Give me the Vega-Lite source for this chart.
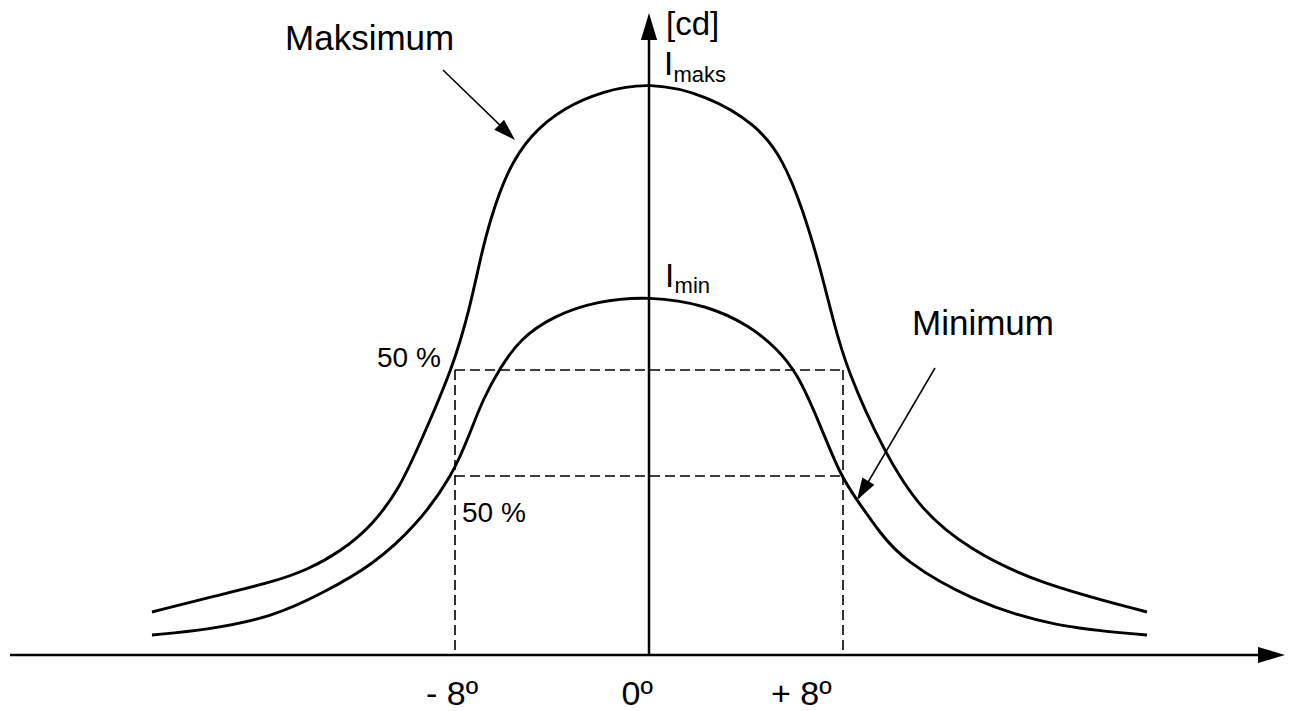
{
  "$schema": "https://vega.github.io/schema/vega-lite/v6.json",
  "width": 1291,
  "height": 711,
  "autosize": {"type": "none"},
  "padding": 0,
  "background": "white",
  "config": {"view": {"stroke": null}},
  "datasets": {
    "curves": [
      {"series": "Maksimum", "deg": -20.495, "val": 43},
      {"series": "Maksimum", "deg": -18.227, "val": 57},
      {"series": "Maksimum", "deg": -15.505, "val": 73},
      {"series": "Maksimum", "deg": -14.103, "val": 85},
      {"series": "Maksimum", "deg": -12.742, "val": 103},
      {"series": "Maksimum", "deg": -11.381, "val": 130},
      {"series": "Maksimum", "deg": -10.268, "val": 168},
      {"series": "Maksimum", "deg": -9.567, "val": 205},
      {"series": "Maksimum", "deg": -8.082, "val": 287},
      {"series": "Maksimum", "deg": -7.381, "val": 348},
      {"series": "Maksimum", "deg": -6.969, "val": 395},
      {"series": "Maksimum", "deg": -6.557, "val": 435},
      {"series": "Maksimum", "deg": -5.856, "val": 484},
      {"series": "Maksimum", "deg": -4.907, "val": 520},
      {"series": "Maksimum", "deg": -3.546, "val": 547},
      {"series": "Maksimum", "deg": -1.897, "val": 564},
      {"series": "Maksimum", "deg": 0, "val": 573},
      {"series": "Maksimum", "deg": 2.392, "val": 560},
      {"series": "Maksimum", "deg": 4.454, "val": 530},
      {"series": "Maksimum", "deg": 5.526, "val": 496},
      {"series": "Maksimum", "deg": 6.351, "val": 445},
      {"series": "Maksimum", "deg": 7.052, "val": 388},
      {"series": "Maksimum", "deg": 7.588, "val": 335},
      {"series": "Maksimum", "deg": 8.165, "val": 285},
      {"series": "Maksimum", "deg": 9.649, "val": 205},
      {"series": "Maksimum", "deg": 11.175, "val": 145},
      {"series": "Maksimum", "deg": 13.237, "val": 105},
      {"series": "Maksimum", "deg": 16.0, "val": 72},
      {"series": "Maksimum", "deg": 20.536, "val": 43},
      {"series": "Minimum", "deg": -20.495, "val": 20},
      {"series": "Minimum", "deg": -18.227, "val": 25},
      {"series": "Minimum", "deg": -15.505, "val": 38},
      {"series": "Minimum", "deg": -13.443, "val": 62},
      {"series": "Minimum", "deg": -11.381, "val": 90},
      {"series": "Minimum", "deg": -9.567, "val": 130},
      {"series": "Minimum", "deg": -8.082, "val": 180},
      {"series": "Minimum", "deg": -7.381, "val": 222},
      {"series": "Minimum", "deg": -6.845, "val": 256},
      {"series": "Minimum", "deg": -6.144, "val": 287},
      {"series": "Minimum", "deg": -5.32, "val": 316},
      {"series": "Minimum", "deg": -3.959, "val": 339},
      {"series": "Minimum", "deg": -2.144, "val": 354},
      {"series": "Minimum", "deg": 0, "val": 359},
      {"series": "Minimum", "deg": 2.392, "val": 350},
      {"series": "Minimum", "deg": 4.165, "val": 329},
      {"series": "Minimum", "deg": 5.3, "val": 306},
      {"series": "Minimum", "deg": 6.103, "val": 282},
      {"series": "Minimum", "deg": 6.928, "val": 238},
      {"series": "Minimum", "deg": 7.876, "val": 180},
      {"series": "Minimum", "deg": 8.577, "val": 155},
      {"series": "Minimum", "deg": 9.526, "val": 122},
      {"series": "Minimum", "deg": 10.474, "val": 95},
      {"series": "Minimum", "deg": 13.237, "val": 55},
      {"series": "Minimum", "deg": 16.66, "val": 28},
      {"series": "Minimum", "deg": 20.536, "val": 20}
    ],
    "axesLines": [
      {"deg": -26.351, "val": 0, "deg2": 25.5, "val2": 0},
      {"deg": 0, "val": 0, "deg2": 0, "val2": 630}
    ],
    "dashed": [
      {"deg": -8, "val": 285, "deg2": 8, "val2": 285},
      {"deg": -8, "val": 179, "deg2": 8, "val2": 179},
      {"deg": -8, "val": 285, "deg2": -8, "val2": 0},
      {"deg": 8, "val": 285, "deg2": 8, "val2": 0}
    ],
    "pointers": [
      {"deg": -8.495, "val": 585, "deg2": -5.6, "val2": 517},
      {"deg": 11.794, "val": 287, "deg2": 8.65, "val2": 157}
    ]
  },
  "encoding": {
    "x": {"field": "deg", "type": "quantitative", "scale": {"domain": [-26.763, 26.474], "nice": false, "zero": false}, "axis": null},
    "y": {"field": "val", "type": "quantitative", "scale": {"domain": [-56, 655], "nice": false, "zero": false}, "axis": null}
  },
  "layer": [
    {
      "data": {"name": "dashed"},
      "mark": {"type": "rule", "color": "black", "strokeWidth": 1.6, "strokeDash": [10, 5]},
      "encoding": {"x2": {"field": "deg2"}, "y2": {"field": "val2"}}
    },
    {
      "data": {"name": "axesLines"},
      "mark": {"type": "rule", "color": "black", "strokeWidth": 2.5},
      "encoding": {"x2": {"field": "deg2"}, "y2": {"field": "val2"}}
    },
    {
      "data": {"name": "curves"},
      "mark": {"type": "line", "color": "black", "strokeWidth": 2.9, "interpolate": "basis"},
      "encoding": {"detail": {"field": "series"}}
    },
    {
      "data": {"name": "pointers"},
      "mark": {"type": "rule", "color": "black", "strokeWidth": 1.5},
      "encoding": {"x2": {"field": "deg2"}, "y2": {"field": "val2"}}
    },
    {
      "data": {"values": [{"deg": 26.227, "val": 0}]},
      "mark": {"type": "point", "shape": "M0,0L-2,-0.6L-2,0.6Z", "size": 729, "filled": true, "color": "black", "opacity": 1, "angle": 0}
    },
    {
      "data": {"values": [{"deg": 0, "val": 642}]},
      "mark": {"type": "point", "shape": "M0,0L-2,-0.6L-2,0.6Z", "size": 729, "filled": true, "color": "black", "opacity": 1, "angle": 270}
    },
    {
      "data": {"values": [{"deg": -5.526, "val": 515}]},
      "mark": {"type": "point", "shape": "M0,0L-2,-0.64L-2,0.64Z", "size": 484, "filled": true, "color": "black", "opacity": 1, "angle": 44}
    },
    {
      "data": {"values": [{"deg": 8.577, "val": 155}]},
      "mark": {"type": "point", "shape": "M0,0L-2,-0.64L-2,0.64Z", "size": 484, "filled": true, "color": "black", "opacity": 1, "angle": 121}
    },
    {
      "data": {"values": [
        {"label": "Maksimum", "deg": -15.01, "val": 605},
        {"label": "Minimum", "deg": 10.845, "val": 320}
      ]},
      "mark": {"type": "text", "font": "Liberation Sans", "fontSize": 35, "align": "left", "baseline": "alphabetic", "color": "black"},
      "encoding": {"text": {"field": "label"}}
    },
    {
      "data": {"values": [
        {"label": "[cd]", "deg": 0.701, "val": 620},
        {"label": "I", "deg": 0.619, "val": 580},
        {"label": "I", "deg": 0.66, "val": 368}
      ]},
      "mark": {"type": "text", "font": "Liberation Sans", "fontSize": 33, "align": "left", "baseline": "alphabetic", "color": "black"},
      "encoding": {"text": {"field": "label"}}
    },
    {
      "data": {"values": [
        {"label": "maks", "deg": 1.01, "val": 573},
        {"label": "min", "deg": 1.056, "val": 362}
      ]},
      "mark": {"type": "text", "font": "Liberation Sans", "fontSize": 22, "align": "left", "baseline": "alphabetic", "color": "black"},
      "encoding": {"text": {"field": "label"}}
    },
    {
      "data": {"values": [
        {"label": "50 %", "deg": -11.216, "val": 288},
        {"label": "50 %", "deg": -7.711, "val": 133}
      ]},
      "mark": {"type": "text", "font": "Liberation Sans", "fontSize": 28, "align": "left", "baseline": "alphabetic", "color": "black"},
      "encoding": {"text": {"field": "label"}}
    },
    {
      "data": {"values": [
        {"label": "- 8º", "deg": -9.196, "val": -50},
        {"label": "0º", "deg": -1.13, "val": -50},
        {"label": "+ 8º", "deg": 5.031, "val": -50}
      ]},
      "mark": {"type": "text", "font": "Liberation Sans", "fontSize": 34, "align": "left", "baseline": "alphabetic", "color": "black"},
      "encoding": {"text": {"field": "label"}}
    }
  ]
}
